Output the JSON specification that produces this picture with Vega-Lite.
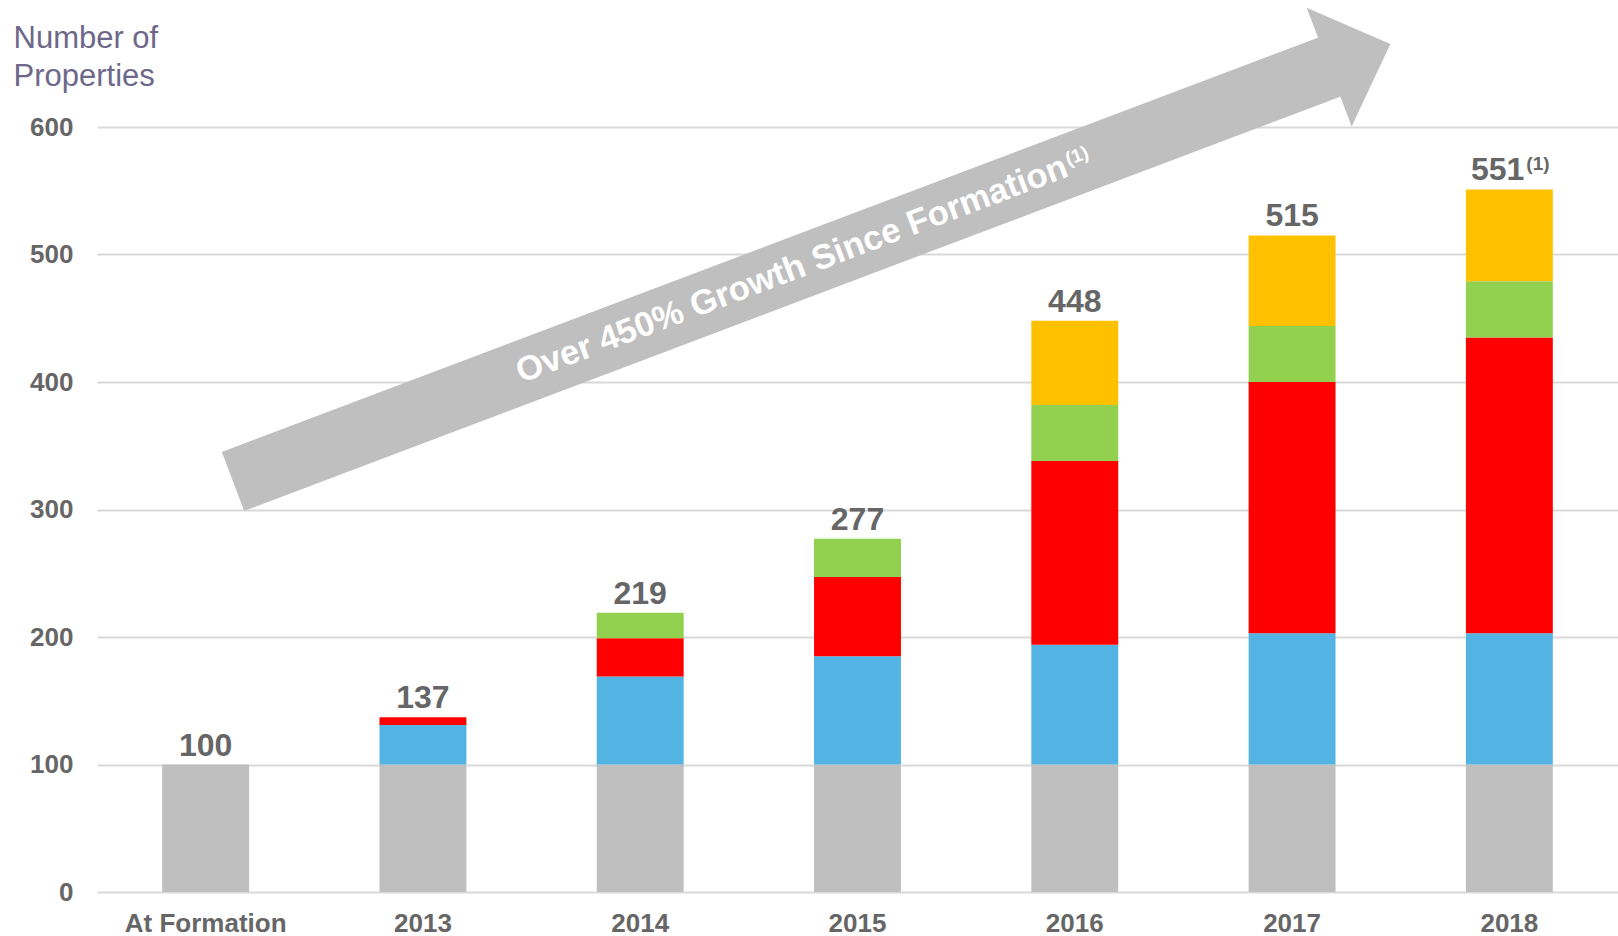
{
  "$schema": "https://vega.github.io/schema/vega-lite/v6.json",
  "width": 1521,
  "height": 765,
  "autosize": {"type": "none"},
  "padding": {"left": 97, "top": 127, "right": 0, "bottom": 44},
  "background": "white",
  "config": {"view": {"stroke": null}, "font": "Liberation Sans"},
  "datasets": {
    "bars": [
      {"period": "At Formation", "seg": "Tranche 1", "ord": 1, "value": 100},
      {"period": "2013", "seg": "Tranche 1", "ord": 1, "value": 100},
      {"period": "2013", "seg": "Tranche 2", "ord": 2, "value": 31},
      {"period": "2013", "seg": "Tranche 3", "ord": 3, "value": 6},
      {"period": "2014", "seg": "Tranche 1", "ord": 1, "value": 100},
      {"period": "2014", "seg": "Tranche 2", "ord": 2, "value": 69},
      {"period": "2014", "seg": "Tranche 3", "ord": 3, "value": 30},
      {"period": "2014", "seg": "Tranche 4", "ord": 4, "value": 20},
      {"period": "2015", "seg": "Tranche 1", "ord": 1, "value": 100},
      {"period": "2015", "seg": "Tranche 2", "ord": 2, "value": 85},
      {"period": "2015", "seg": "Tranche 3", "ord": 3, "value": 62},
      {"period": "2015", "seg": "Tranche 4", "ord": 4, "value": 30},
      {"period": "2016", "seg": "Tranche 1", "ord": 1, "value": 100},
      {"period": "2016", "seg": "Tranche 2", "ord": 2, "value": 94},
      {"period": "2016", "seg": "Tranche 3", "ord": 3, "value": 144},
      {"period": "2016", "seg": "Tranche 4", "ord": 4, "value": 44},
      {"period": "2016", "seg": "Tranche 5", "ord": 5, "value": 66},
      {"period": "2017", "seg": "Tranche 1", "ord": 1, "value": 100},
      {"period": "2017", "seg": "Tranche 2", "ord": 2, "value": 103},
      {"period": "2017", "seg": "Tranche 3", "ord": 3, "value": 197},
      {"period": "2017", "seg": "Tranche 4", "ord": 4, "value": 44},
      {"period": "2017", "seg": "Tranche 5", "ord": 5, "value": 71},
      {"period": "2018", "seg": "Tranche 1", "ord": 1, "value": 100},
      {"period": "2018", "seg": "Tranche 2", "ord": 2, "value": 103},
      {"period": "2018", "seg": "Tranche 3", "ord": 3, "value": 232},
      {"period": "2018", "seg": "Tranche 4", "ord": 4, "value": 44},
      {"period": "2018", "seg": "Tranche 5", "ord": 5, "value": 72}
    ],
    "totals": [
      {"period": "At Formation", "total": 100, "label": "100", "note": ""},
      {"period": "2013", "total": 137, "label": "137", "note": ""},
      {"period": "2014", "total": 219, "label": "219", "note": ""},
      {"period": "2015", "total": 277, "label": "277", "note": ""},
      {"period": "2016", "total": 448, "label": "448", "note": ""},
      {"period": "2017", "total": 515, "label": "515", "note": ""},
      {"period": "2018", "total": 551, "label": "551", "note": "(1)"}
    ],
    "arrow": [
      {"x": 0.626, "y": 322.0, "x2": 5.679, "y2": 647.5}
    ],
    "arrowText": [
      {"x": 4.461, "y": 569.1, "text": "Over 450% Growth Since Formation", "note": "(1)"}
    ]
  },
  "layer": [
    {
      "layer": [
        {
          "data": {"name": "bars"},
          "mark": {"type": "bar"},
          "encoding": {
            "x": {
              "field": "period", "type": "nominal",
              "sort": ["At Formation", "2013", "2014", "2015", "2016", "2017", "2018"],
              "scale": {"paddingInner": 0.6, "paddingOuter": 0.3},
              "axis": {
                "title": null, "domain": false, "ticks": false, "tickSize": 0,
                "labelPadding": 18, "labelFontSize": 26, "labelFontWeight": "bold",
                "labelColor": "#666666", "labelAngle": 0, "labelFont": "Liberation Sans"
              }
            },
            "y": {
              "field": "value", "type": "quantitative", "stack": "zero",
              "scale": {"domain": [0, 600], "nice": false},
              "axis": {
                "title": ["Number of", "Properties"],
                "titleAngle": 0, "titleAlign": "left", "titleBaseline": "alphabetic",
                "titleX": -84, "titleY": -80, "titleFontSize": 31, "titleFontWeight": "normal",
                "titleColor": "#6d6889", "titleLineHeight": 38, "titleFont": "Liberation Sans",
                "values": [0, 100, 200, 300, 400, 500, 600],
                "domain": false, "ticks": false, "tickSize": 0,
                "labelPadding": 24, "labelFontSize": 26, "labelFontWeight": "bold",
                "labelColor": "#666666", "labelFont": "Liberation Sans",
                "grid": true, "gridColor": "#d9d9d9", "gridWidth": 2
              }
            },
            "color": {
              "field": "seg", "type": "nominal",
              "scale": {
                "domain": ["Tranche 1", "Tranche 2", "Tranche 3", "Tranche 4", "Tranche 5"],
                "range": ["#bfbfbf", "#53b4e4", "#ff0000", "#92d050", "#ffc000"]
              },
              "legend": null
            },
            "order": {"field": "ord", "type": "quantitative"}
          }
        },
        {
          "data": {"name": "totals"},
          "transform": [{"filter": "datum.note === ''"}],
          "mark": {"type": "text", "baseline": "alphabetic", "dy": -9, "fontSize": 32, "fontWeight": "bold", "color": "#666666", "font": "Liberation Sans"},
          "encoding": {
            "x": {"field": "period", "type": "nominal", "sort": ["At Formation", "2013", "2014", "2015", "2016", "2017", "2018"]},
            "y": {"field": "total", "type": "quantitative", "scale": {"domain": [0, 600], "nice": false}},
            "text": {"field": "label"}
          }
        },
        {
          "data": {"name": "totals"},
          "transform": [{"filter": "datum.note !== ''"}],
          "mark": {"type": "text", "baseline": "alphabetic", "align": "right", "dx": 15, "dy": -9, "fontSize": 32, "fontWeight": "bold", "color": "#666666", "font": "Liberation Sans"},
          "encoding": {
            "x": {"field": "period", "type": "nominal", "sort": ["At Formation", "2013", "2014", "2015", "2016", "2017", "2018"]},
            "y": {"field": "total", "type": "quantitative", "scale": {"domain": [0, 600], "nice": false}},
            "text": {"field": "label"}
          }
        },
        {
          "data": {"name": "totals"},
          "transform": [{"filter": "datum.note !== ''"}],
          "mark": {"type": "text", "baseline": "alphabetic", "align": "left", "dx": 17, "dy": -19, "fontSize": 19, "fontWeight": "bold", "color": "#666666", "font": "Liberation Sans"},
          "encoding": {
            "x": {"field": "period", "type": "nominal", "sort": ["At Formation", "2013", "2014", "2015", "2016", "2017", "2018"]},
            "y": {"field": "total", "type": "quantitative", "scale": {"domain": [0, 600], "nice": false}},
            "text": {"field": "note"}
          }
        }
      ]
    },
    {
      "layer": [
        {
          "data": {"name": "arrow"},
          "mark": {"type": "rule", "strokeWidth": 63, "strokeCap": "butt", "color": "#bfbfbf"},
          "encoding": {
            "x": {"field": "x", "type": "quantitative", "scale": {"domain": [0, 7], "nice": false, "zero": false}, "axis": null},
            "y": {"field": "y", "type": "quantitative", "scale": {"domain": [0, 600], "nice": false}},
            "x2": {"field": "x2"},
            "y2": {"field": "y2"}
          }
        },
        {
          "data": {"name": "arrow"},
          "mark": {"type": "point", "shape": "M -0.03 -1 L 1 0 L -0.03 1 Z", "size": 16129, "angle": 339.28, "filled": true, "opacity": 1, "color": "#bfbfbf", "strokeWidth": 0},
          "encoding": {
            "x": {"field": "x2", "type": "quantitative", "scale": {"domain": [0, 7], "nice": false, "zero": false}, "axis": null},
            "y": {"field": "y2", "type": "quantitative", "scale": {"domain": [0, 600], "nice": false}}
          }
        },
        {
          "data": {"name": "arrowText"},
          "mark": {"type": "text", "angle": 339.28, "align": "right", "baseline": "alphabetic", "dy": 10, "fontSize": 34.5, "fontWeight": "bold", "color": "#ffffff", "font": "Liberation Sans"},
          "encoding": {
            "x": {"field": "x", "type": "quantitative", "scale": {"domain": [0, 7], "nice": false, "zero": false}, "axis": null},
            "y": {"field": "y", "type": "quantitative", "scale": {"domain": [0, 600], "nice": false}},
            "text": {"field": "text"}
          }
        },
        {
          "data": {"name": "arrowText"},
          "mark": {"type": "text", "angle": 339.28, "align": "left", "baseline": "alphabetic", "dx": 2, "dy": 0, "fontSize": 19, "fontWeight": "bold", "color": "#ffffff", "font": "Liberation Sans"},
          "encoding": {
            "x": {"field": "x", "type": "quantitative", "scale": {"domain": [0, 7], "nice": false, "zero": false}, "axis": null},
            "y": {"field": "y", "type": "quantitative", "scale": {"domain": [0, 600], "nice": false}},
            "text": {"field": "note"}
          }
        }
      ]
    }
  ],
  "resolve": {"scale": {"x": "independent"}}
}
